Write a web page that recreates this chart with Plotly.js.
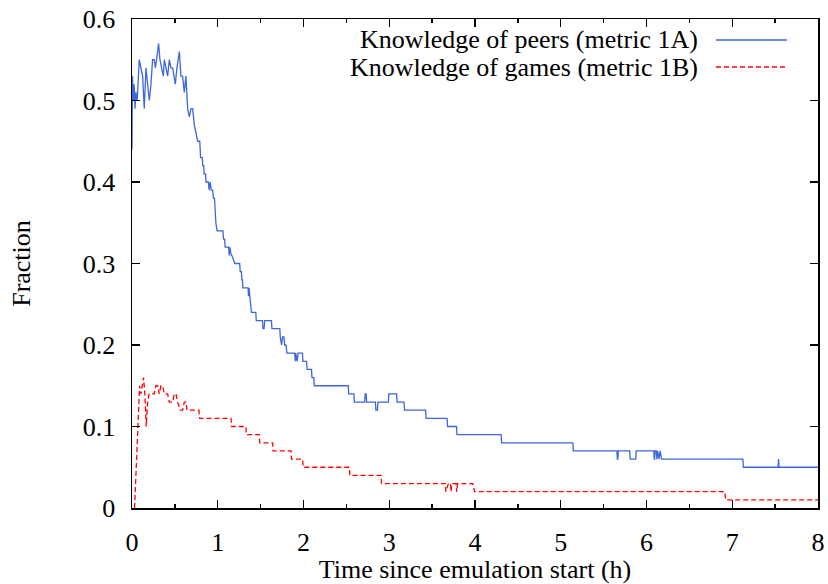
<!DOCTYPE html>
<html>
<head>
<meta charset="utf-8">
<script src="https://cdn.plot.ly/plotly-3.0.1.min.js"></script>
<style>html,body{margin:0;padding:0;background:#fff;}#chart{width:828px;height:584px;}</style>
</head>
<body>
<div id="chart"></div>
<script>
// Knowledge of peers (metric 1A): time (h) and fraction samples
const peersTime = [0,0.005,0.015,0.025,0.035,0.045,0.06,0.085,0.104,0.124,0.143,0.163,0.182,0.202,0.221,0.24,0.26,0.272,0.287,0.31,0.326,0.35,0.365,0.377,0.396,0.416,0.435,0.454,0.474,0.493,0.505,0.524,0.54,0.552,0.571,0.59,0.61,0.629,0.649,0.668,0.688,0.707,0.727,0.746,0.766,
0.790,0.800,0.820,0.825,0.836,0.841,0.858,0.864,0.890,0.900,0.912,0.925,0.940,0.950,0.962,0.970,0.978,0.992,1.060,1.067,1.080,1.086,1.128,1.133,1.140,1.158,1.164,1.200,1.256,1.262,1.276,1.281,1.288,1.293,1.354,1.359,1.365,1.374,1.381,1.393,1.444,1.449,1.522,1.527,1.540,1.548,1.626,1.632,1.724,1.729,1.744,1.756,1.772,1.780,1.796,1.806,1.898,1.904,1.910,1.925,1.937,1.988,1.994,2.036,2.042,2.093,2.099,2.120,2.126,2.522,2.527,2.588,2.593,2.714,2.720,2.730,2.736,2.838,2.845,2.862,2.868,2.990,2.995,3.085,3.092,3.172,3.178,3.424,3.430,3.674,3.680,3.784,3.790,4.304,4.310,5.141,5.147,5.655,5.660,5.666,5.672,5.804,5.810,5.874,5.880,6.085,6.090,6.095,6.100,6.115,6.120,6.130,6.145,6.160,6.175,6.190,7.124,7.130,7.535,7.540,7.546,8.000];
const peersFrac = [0.44,0.53,0.50,0.52,0.49,0.51,0.50,0.55,0.54,0.53,0.49,0.54,0.52,0.50,0.52,0.55,0.55,0.54,0.55,0.57,0.55,0.54,0.53,0.55,0.54,0.53,0.55,0.54,0.54,0.53,0.52,0.54,0.55,0.56,0.53,0.53,0.51,0.53,0.49,0.48,0.49,0.49,0.47,0.46,0.45,
0.45,0.43,0.43,0.42,0.42,0.41,0.41,0.40,0.40,0.39,0.40,0.39,0.39,0.38,0.38,0.36,0.35,0.34,0.34,0.33,0.33,0.32,0.32,0.31,0.32,0.31,0.31,0.30,0.30,0.29,0.29,0.28,0.28,0.27,0.27,0.26,0.27,0.26,0.25,0.24,0.24,0.23,0.23,0.22,0.22,0.23,0.23,0.22,0.22,0.21,0.20,0.21,0.21,0.20,0.20,0.19,0.19,0.18,0.19,0.18,0.19,0.19,0.18,0.18,0.17,0.17,0.16,0.16,0.15,0.15,0.14,0.14,0.13,0.13,0.14,0.14,0.13,0.13,0.12,0.12,0.13,0.13,0.14,0.14,0.13,0.13,0.12,0.12,0.11,0.11,0.10,0.10,0.09,0.09,0.08,0.08,0.07,0.07,0.06,0.06,0.07,0.07,0.06,0.06,0.07,0.07,0.06,0.06,0.07,0.07,0.06,0.07,0.06,0.07,0.06,0.06,0.06,0.05,0.05,0.06,0.05,0.05];

// Knowledge of games (metric 1B)
const gamesTime = [0.030,0.077,0.089,0.104,0.120,0.135,0.150,0.166,0.182,0.200,0.221,0.260,0.279,0.299,0.318,0.338,0.357,0.377,0.416,0.435,0.474,0.493,0.513,0.532,0.563,0.590,0.610,0.629,0.641,0.780,0.789,1.155,1.160,1.328,1.334,1.484,1.490,1.640,1.645,1.855,1.860,1.990,1.995,2.535,2.540,2.905,2.910,3.652,3.660,3.690,3.715,3.720,3.730,3.780,3.787,3.797,3.975,3.995,6.915,6.922,8.000];
const gamesFrac = [0.00,0.14,0.15,0.14,0.15,0.16,0.14,0.10,0.13,0.14,0.14,0.14,0.15,0.15,0.14,0.15,0.15,0.14,0.14,0.13,0.13,0.14,0.14,0.13,0.12,0.12,0.13,0.13,0.12,0.12,0.11,0.11,0.10,0.10,0.09,0.09,0.08,0.08,0.07,0.07,0.06,0.06,0.05,0.05,0.04,0.04,0.03,0.03,0.02,0.03,0.03,0.02,0.03,0.03,0.02,0.03,0.03,0.02,0.02,0.01,0.01];

const seriesNames = ["Knowledge of peers (metric 1A)", "Knowledge of games (metric 1B)"];
const seriesColors = ["#3e66dc", "#ff0000"];
const xTickVals = [0,1,2,3,4,5,6,7,8];
const xMinorVals = [0.5,1.5,2.5,3.5,4.5,5.5,6.5,7.5];
const yTickVals = [0,0.1,0.2,0.3,0.4,0.5,0.6];
const yTickText = ["0","0.1","0.2","0.3","0.4","0.5","0.6"];

const FONT = '"Liberation Serif", "Times New Roman", serif';
const FS = 26;

const traces = [
  {x: peersTime, y: peersFrac, type: "scatter", mode: "lines", name: seriesNames[0],
   line: {color: seriesColors[0], width: 1.3}, showlegend: false},
  {x: gamesTime, y: gamesFrac, type: "scatter", mode: "lines", name: seriesNames[1],
   line: {color: seriesColors[1], width: 1.3, dash: "5px,3px"}, showlegend: false}
];

// legend drawn at top-right: text right-aligned, sample line to its right
const L = 132, R = 10, T = 19, B = 76, W = 828, H = 584;
const pw = W - L - R, ph = H - T - B;
function px2x(p){ return (p - L) / pw; }
function py2y(p){ return 1 - (p - T) / ph; }
const legendRows = [40, 67];

const annotations = seriesNames.map((n, i) => ({
  xref: "paper", yref: "paper", x: px2x(700), y: py2y(legendRows[i]),
  xanchor: "right", yanchor: "middle", text: n, showarrow: false,
  font: {family: FONT, size: FS, color: "#000"}
}));
const shapes = seriesNames.map((n, i) => ({
  type: "line", xref: "paper", yref: "paper",
  x0: px2x(716), x1: px2x(787), y0: py2y(legendRows[i]), y1: py2y(legendRows[i]),
  line: {color: seriesColors[i], width: 1.3, dash: i === 1 ? "5px,3px" : "solid"}
}));

const layout = {
  width: W, height: H,
  margin: {l: L, r: R, t: T, b: B, pad: 0},
  paper_bgcolor: "#fff", plot_bgcolor: "#fff",
  font: {family: FONT, size: FS, color: "#000"},
  showlegend: false,
  xaxis: {
    range: [0, 8], tickvals: xTickVals, ticks: "inside", ticklen: 8, tickwidth: 1.3, tickcolor: "#000",
    minor: {tickvals: xMinorVals, ticks: "inside", ticklen: 4, tickwidth: 1.3, tickcolor: "#000"},
    showline: true, linecolor: "#000", linewidth: 1.5, mirror: "ticks",
    showgrid: false, zeroline: false, ticklabelstandoff: 10,
    tickfont: {family: FONT, size: FS, color: "#000"},
    title: {text: "Time since emulation start (h)", font: {family: FONT, size: FS, color: "#000"}, standoff: 13}
  },
  yaxis: {
    range: [0, 0.6], tickvals: yTickVals, ticktext: yTickText, ticks: "inside", ticklen: 8, tickwidth: 1.3, tickcolor: "#000",
    showline: true, linecolor: "#000", linewidth: 1.5, mirror: "ticks",
    showgrid: false, zeroline: false, ticklabelstandoff: 10,
    tickfont: {family: FONT, size: FS, color: "#000"},
    title: {text: "Fraction", font: {family: FONT, size: FS, color: "#000"}, standoff: 44}
  },
  annotations: annotations,
  shapes: shapes
};

Plotly.newPlot("chart", traces, layout, {staticPlot: true, displayModeBar: false});
</script>
</body>
</html>
